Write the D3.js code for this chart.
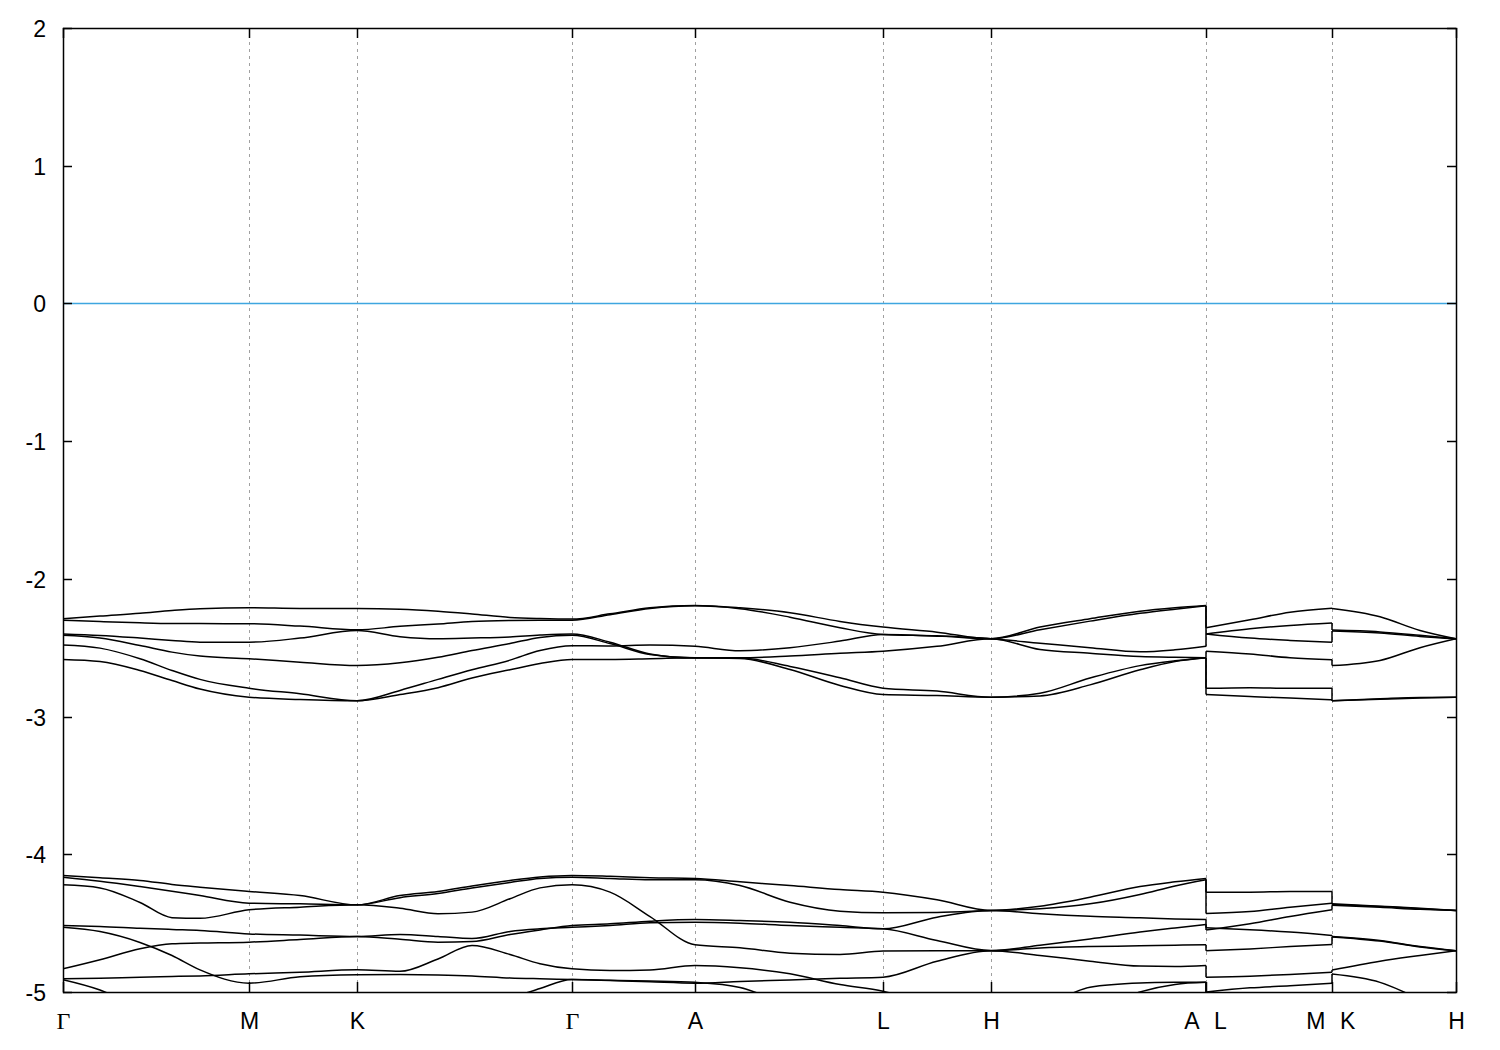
<!DOCTYPE html>
<html><head><meta charset="utf-8">
<script src="https://cdn.jsdelivr.net/npm/d3@7"></script>
<style>
body{margin:0;background:#fff}
text{font-family:"Liberation Sans",Arial,sans-serif;font-size:23px;fill:#000}
</style>
</head><body>
<svg id="chart" width="1500" height="1050"></svg>
<script>
// ---- tick data ----
const kTicks  = [0, 1.86, 2.94, 5.09, 6.32, 8.20, 9.28, 11.43, 12.69, 13.93];
const kLabels = ["Γ","M","K","Γ","A","L","H","A L","M K","H"];
const yTicks  = [-5,-4,-3,-2,-1,0,1,2];
const fermiLevel = 0;

// ---- segment 1 : Γ-M-K-Γ-A-L-H-A ----
const seg1K = [0,0.37,0.77,1.09,1.37,1.86,2.37,2.94,3.37,3.75,4.09,4.47,4.77,5.09,5.47,5.87,6.32,6.77,7.27,7.77,8.20,8.74,9.28,9.77,10.27,10.77,11.12,11.43];
const seg1U1 = [-2.29,-2.27,-2.25,-2.23,-2.217,-2.21,-2.215,-2.215,-2.22,-2.235,-2.255,-2.28,-2.288,-2.292,-2.254,-2.21,-2.193,-2.21,-2.246,-2.309,-2.35,-2.387,-2.435,-2.35,-2.29,-2.235,-2.21,-2.193];
const seg1U2 = [-2.30,-2.31,-2.319,-2.324,-2.325,-2.326,-2.343,-2.37,-2.345,-2.328,-2.31,-2.302,-2.30,-2.30,-2.26,-2.215,-2.196,-2.217,-2.278,-2.355,-2.404,-2.414,-2.435,-2.37,-2.307,-2.25,-2.22,-2.196];
const seg1U3 = [-2.40,-2.411,-2.43,-2.447,-2.46,-2.46,-2.43,-2.375,-2.42,-2.435,-2.43,-2.422,-2.408,-2.40,-2.46,-2.545,-2.573,-2.573,-2.56,-2.54,-2.525,-2.49,-2.435,-2.513,-2.54,-2.564,-2.57,-2.573];
const seg1U4 = [-2.41,-2.43,-2.484,-2.532,-2.561,-2.58,-2.605,-2.629,-2.61,-2.57,-2.52,-2.47,-2.425,-2.41,-2.47,-2.55,-2.575,-2.575,-2.636,-2.718,-2.794,-2.815,-2.859,-2.83,-2.72,-2.63,-2.595,-2.573];
const seg1U5 = [-2.48,-2.503,-2.58,-2.665,-2.73,-2.794,-2.835,-2.885,-2.81,-2.73,-2.66,-2.59,-2.52,-2.485,-2.487,-2.48,-2.49,-2.522,-2.50,-2.452,-2.404,-2.416,-2.435,-2.467,-2.50,-2.53,-2.515,-2.49];
const seg1U6 = [-2.585,-2.60,-2.665,-2.738,-2.80,-2.859,-2.876,-2.885,-2.84,-2.79,-2.72,-2.66,-2.615,-2.585,-2.585,-2.58,-2.573,-2.578,-2.658,-2.774,-2.84,-2.847,-2.859,-2.85,-2.77,-2.66,-2.60,-2.573];
const seg1L1 = [-4.154,-4.171,-4.19,-4.219,-4.239,-4.27,-4.30,-4.367,-4.30,-4.27,-4.23,-4.19,-4.165,-4.154,-4.16,-4.17,-4.175,-4.20,-4.227,-4.256,-4.275,-4.33,-4.408,-4.377,-4.312,-4.234,-4.20,-4.175];
const seg1L2 = [-4.166,-4.195,-4.234,-4.268,-4.30,-4.355,-4.36,-4.367,-4.315,-4.285,-4.245,-4.205,-4.175,-4.166,-4.175,-4.185,-4.185,-4.227,-4.348,-4.413,-4.425,-4.423,-4.408,-4.396,-4.36,-4.292,-4.23,-4.185];
const seg1L3 = [-4.222,-4.244,-4.35,-4.46,-4.465,-4.403,-4.384,-4.367,-4.392,-4.432,-4.42,-4.323,-4.244,-4.222,-4.275,-4.452,-4.657,-4.679,-4.718,-4.728,-4.703,-4.70,-4.70,-4.68,-4.67,-4.665,-4.66,-4.657];
const seg1L4 = [-4.517,-4.524,-4.537,-4.546,-4.553,-4.578,-4.587,-4.597,-4.582,-4.597,-4.612,-4.56,-4.541,-4.53,-4.517,-4.498,-4.493,-4.50,-4.517,-4.53,-4.541,-4.626,-4.699,-4.66,-4.615,-4.565,-4.535,-4.51];
const seg1L5 = [-4.53,-4.561,-4.64,-4.735,-4.839,-4.936,-4.89,-4.875,-4.873,-4.876,-4.883,-4.898,-4.904,-4.909,-4.916,-4.926,-4.936,-4.924,-4.912,-4.90,-4.892,-4.776,-4.70,-4.735,-4.776,-4.812,-4.815,-4.808];
const seg1L6 = [-4.832,-4.766,-4.686,-4.65,-4.645,-4.638,-4.619,-4.597,-4.617,-4.638,-4.633,-4.582,-4.549,-4.517,-4.505,-4.486,-4.474,-4.481,-4.493,-4.517,-4.541,-4.457,-4.408,-4.432,-4.45,-4.461,-4.47,-4.474];
const seg1L7 = [-4.904,-4.90,-4.892,-4.887,-4.883,-4.868,-4.856,-4.839,-4.85,-4.76,-4.662,-4.728,-4.795,-4.832,-4.844,-4.84,-4.808,-4.824,-4.868,-4.946,-4.994,-5.12,-5.2,-5.12,-4.965,-4.935,-4.93,-4.929];
const seg1L8 = [-4.91,-4.985,-5.12,-5.2,-5.25,-5.3,-5.3,-5.3,-5.3,-5.28,-5.2,-5.05,-4.975,-4.91,-4.915,-4.92,-4.93,-4.967,-5.1,-5.2,-5.3,-5.35,-5.35,-5.3,-5.15,-5.0,-4.945,-4.93];

// ---- segment 2 : L-M ----
const seg2K = [11.43, 11.87, 12.27, 12.69];
const seg2U1 = [-2.355,-2.297,-2.242,-2.213];
const seg2U2 = [-2.40,-2.362,-2.338,-2.32];
const seg2U3 = [-2.40,-2.43,-2.447,-2.46];
const seg2U4 = [-2.525,-2.545,-2.573,-2.588];
const seg2U5 = [-2.795,-2.79,-2.795,-2.795];
const seg2U6 = [-2.84,-2.854,-2.866,-2.878];
const seg2L1 = [-4.275,-4.275,-4.27,-4.27];
const seg2L2 = [-4.43,-4.415,-4.384,-4.355];
const seg2L3 = [-4.534,-4.548,-4.565,-4.589];
const seg2L4 = [-4.55,-4.505,-4.452,-4.403];
const seg2L5 = [-4.70,-4.687,-4.67,-4.655];
const seg2L6 = [-4.892,-4.885,-4.873,-4.856];
const seg2L7 = [-5.0,-4.97,-4.955,-4.936];
const seg2L8 = [-5.3,-5.3,-5.3,-5.3];

// ---- segment 3 : K-H ----
const seg3K = [12.69, 13.17, 13.57, 13.93];
const seg3U1 = [-2.215,-2.275,-2.375,-2.435];
const seg3U2 = [-2.372,-2.385,-2.41,-2.435];
const seg3U3 = [-2.378,-2.393,-2.418,-2.435];
const seg3U4 = [-2.63,-2.593,-2.50,-2.435];
const seg3U5 = [-2.885,-2.871,-2.861,-2.859];
const seg3U6 = [-2.885,-2.875,-2.865,-2.859];
const seg3L1 = [-4.36,-4.377,-4.391,-4.408];
const seg3L2 = [-4.365,-4.38,-4.395,-4.408];
const seg3L3 = [-4.37,-4.385,-4.40,-4.408];
const seg3L4 = [-4.597,-4.626,-4.67,-4.70];
const seg3L5 = [-4.60,-4.63,-4.673,-4.70];
const seg3L6 = [-4.84,-4.776,-4.735,-4.70];
const seg3L7 = [-4.87,-4.93,-5.05,-5.15];
const seg3L8 = [-5.3,-5.3,-5.3,-5.3];

const segments = [
  {k: seg1K, bands: [seg1U1,seg1U2,seg1U3,seg1U4,seg1U5,seg1U6,seg1L1,seg1L2,seg1L3,seg1L4,seg1L5,seg1L6,seg1L7,seg1L8]},
  {k: seg2K, bands: [seg2U1,seg2U2,seg2U3,seg2U4,seg2U5,seg2U6,seg2L1,seg2L2,seg2L3,seg2L4,seg2L5,seg2L6,seg2L7,seg2L8]},
  {k: seg3K, bands: [seg3U1,seg3U2,seg3U3,seg3U4,seg3U5,seg3U6,seg3L1,seg3L2,seg3L3,seg3L4,seg3L5,seg3L6,seg3L7,seg3L8]}
];

// ---- drawing ----
const L = 63, R = 1456, T = 28, B = 992;
const svg = d3.select("#chart");
svg.append("rect").attr("width",1500).attr("height",1050).attr("fill","#fff");

const x = d3.scaleLinear().domain([kTicks[0], kTicks[kTicks.length-1]]).range([L, R]);
const y = d3.scaleLinear().domain([-5, 2]).range([B, T]);

svg.append("defs").append("clipPath").attr("id","clip")
  .append("rect").attr("x",L).attr("y",T).attr("width",R-L).attr("height",B-T);

// grid
svg.append("g").selectAll("line").data(kTicks.slice(1,-1)).join("line")
  .attr("x1",d=>Math.round(x(d))+0.5).attr("x2",d=>Math.round(x(d))+0.5)
  .attr("y1",T).attr("y2",B)
  .attr("stroke","#a0a0a0").attr("stroke-width",1).attr("stroke-dasharray","3,4");

// fermi level
svg.append("line").attr("x1",L).attr("x2",R)
  .attr("y1",Math.round(y(fermiLevel))+0.5).attr("y2",Math.round(y(fermiLevel))+0.5)
  .attr("stroke","#3fa6e0").attr("stroke-width",1.5);

const plot = svg.append("g").attr("clip-path","url(#clip)");
const line = d3.line().curve(d3.curveMonotoneX);

segments.forEach(seg => {
  seg.bands.forEach(b => {
    plot.append("path")
      .attr("d", line(b.map((v,i)=>[x(seg.k[i]), y(v)])))
      .attr("fill","none").attr("stroke","#000").attr("stroke-width",1.5);
  });
});

// vertical connections at discontinuities (bands joined in energy order)
for (let s = 0; s < segments.length-1; s++) {
  const a = segments[s], b = segments[s+1];
  const kj = a.k[a.k.length-1];
  const ea = a.bands.map(d=>d[d.length-1]).sort((p,q)=>q-p);
  const eb = b.bands.map(d=>d[0]).sort((p,q)=>q-p);
  const n = Math.min(ea.length, eb.length);
  for (let i = 0; i < n; i++) {
    plot.append("line")
      .attr("x1",x(kj)).attr("x2",x(kj)).attr("y1",y(ea[i])).attr("y2",y(eb[i]))
      .attr("stroke","#000").attr("stroke-width",1.5);
  }
}

// frame
svg.append("rect").attr("x",L+0.5).attr("y",T+0.5).attr("width",R-L).attr("height",B-T)
  .attr("fill","none").attr("stroke","#000").attr("stroke-width",1.5);

// y ticks and labels
const yg = svg.append("g");
yTicks.forEach(t => {
  const yy = Math.round(y(t))+0.5;
  yg.append("line").attr("x1",L).attr("x2",L+9).attr("y1",yy).attr("y2",yy).attr("stroke","#000").attr("stroke-width",1.5);
  yg.append("line").attr("x1",R).attr("x2",R-9).attr("y1",yy).attr("y2",yy).attr("stroke","#000").attr("stroke-width",1.5);
  yg.append("text").attr("x",46).attr("y",yy+8).attr("text-anchor","end").text(String(t));
});

// x ticks and labels
const xg = svg.append("g");
kTicks.forEach((t,i) => {
  const xx = Math.round(x(t))+0.5;
  xg.append("line").attr("x1",xx).attr("x2",xx).attr("y1",B).attr("y2",B-10).attr("stroke","#000").attr("stroke-width",1.5);
  xg.append("line").attr("x1",xx).attr("x2",xx).attr("y1",T).attr("y2",T+10).attr("stroke","#000").attr("stroke-width",1.5);
  const lab = kLabels[i];
  const parts = lab.split(" ");
  if (parts.length === 2) {
    xg.append("text").attr("x",xx-7).attr("y",1029).attr("text-anchor","end").text(parts[0]);
    xg.append("text").attr("x",xx+7.5).attr("y",1029).attr("text-anchor","start").text(parts[1]);
  } else {
    const tx = xg.append("text").attr("x",xx).attr("y",1029).attr("text-anchor","middle").text(lab);
    if (lab === "Γ") tx.style("font-family","'Liberation Serif','DejaVu Serif',serif").style("font-size","24px");
  }
});
</script>
</body></html>
